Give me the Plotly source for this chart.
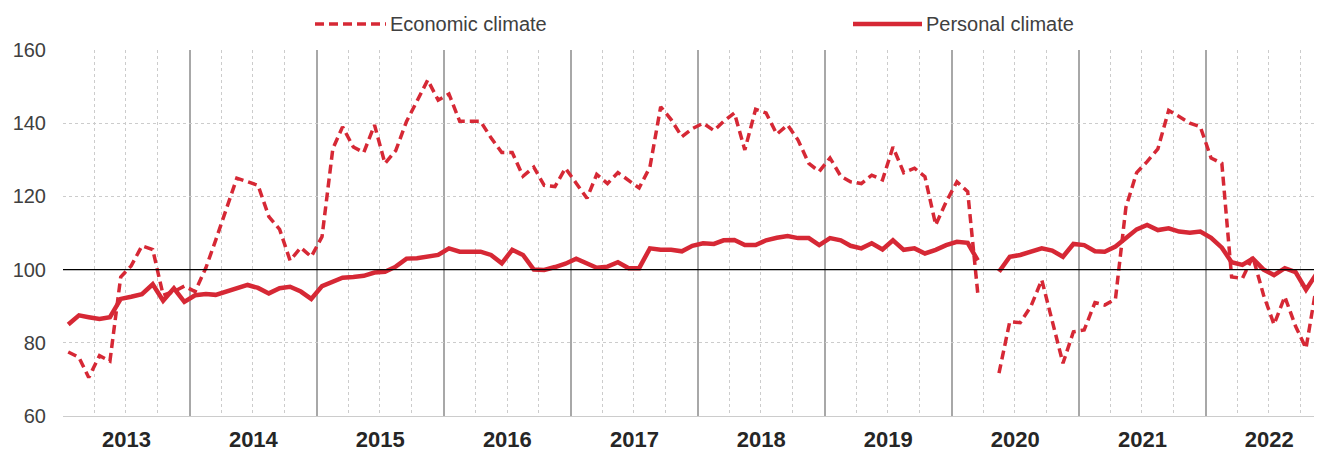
import pandas as pd
import plotly.graph_objects as go

# ---- data (monthly, Jan 2013 - Nov 2022; Apr 2020 missing) ----
econ_2013 = [77.5, 76, 70.5, 76.5, 75, 98, 101, 106.5, 105.5, 93, 94, 95.5]
econ_2014 = [94, 100.5, 108, 117, 125, 124, 123, 114.5, 111, 102.5, 106, 103.5]
econ_2015 = [109, 133, 139, 133.5, 132, 139.5, 129, 132.5, 140.5, 146, 151.8, 146.3]
econ_2016 = [148, 140.5, 140.5, 140.5, 136, 132, 132, 125.5, 128, 123, 122.7, 127.7]
econ_2017 = [123.6, 119.5, 126, 123.5, 126.5, 124.5, 122.3, 128, 144.5, 141, 136.3, 138.5]
econ_2018 = [140, 138, 140.5, 142.8, 132.7, 143.8, 142.8, 137, 139.5, 135.4, 129, 126.8]
econ_2019 = [130.5, 125.5, 124, 123.5, 125.8, 124.5, 133.5, 126.5, 127.7, 125.4, 112.2, 118.5]
econ_2020 = [124, 121.3, 93.5, None, 71.7, 85.8, 85.5, 90, 97.2, 86, 74.4, 83]
econ_2021 = [83.5, 91, 90.3, 92, 117, 126.5, 129.5, 133, 143.5, 141.8, 140, 139]
econ_2022 = [130.5, 129, 98, 97.6, 103.5, 93, 85, 92.6, 84.5, 78.5, 96]

pers_2013 = [85, 87.5, 87, 86.5, 87, 92, 92.6, 93.3, 96, 91.5, 94.9, 91.2]
pers_2014 = [93, 93.3, 93.1, 94, 95, 95.8, 95, 93.5, 94.9, 95.3, 94, 92]
pers_2015 = [95.5, 96.8, 97.8, 98, 98.3, 99.2, 99.4, 100.8, 103, 103.1, 103.5, 104]
pers_2016 = [105.8, 104.9, 104.9, 104.9, 104, 101.7, 105.4, 104, 100, 99.9, 100.7, 101.6]
pers_2017 = [103, 101.7, 100.5, 100.8, 102, 100.4, 100.4, 105.8, 105.4, 105.4, 105, 106.5]
pers_2018 = [107.2, 107, 108, 108.1, 106.7, 106.7, 108, 108.7, 109.2, 108.6, 108.6, 106.7]
pers_2019 = [108.6, 108, 106.5, 105.8, 107.2, 105.5, 108, 105.4, 105.8, 104.4, 105.4, 106.7]
pers_2020 = [107.6, 107.3, 102.5, None, 99.4, 103.5, 104, 105, 105.8, 105.2, 103.5, 107]
pers_2021 = [106.7, 105, 104.9, 106.3, 108.6, 111, 112.2, 110.8, 111.3, 110.4, 110.1, 110.4]
pers_2022 = [108.7, 106, 102, 101.3, 103, 100, 98.5, 100.4, 99.3, 94.5, 99]

economic = (econ_2013 + econ_2014 + econ_2015 + econ_2016 + econ_2017 +
            econ_2018 + econ_2019 + econ_2020 + econ_2021 + econ_2022)
personal = (pers_2013 + pers_2014 + pers_2015 + pers_2016 + pers_2017 +
            pers_2018 + pers_2019 + pers_2020 + pers_2021 + pers_2022)

months = pd.date_range("2013-01-01", periods=len(economic), freq="MS") + pd.Timedelta(days=15)

RED = "#d62835"
FONT = "Liberation Sans, Arial, sans-serif"

# page has an 8px body margin; figure coordinates are offset accordingly
FIG_W, FIG_H = 1322, 453
L, R, T, B = 55, 8, 42, 45
PLOT_W = FIG_W - L - R
PLOT_H = FIG_H - T - B

fig = go.Figure()
fig.add_trace(go.Scatter(x=months, y=economic, name="Economic climate", mode="lines",
                         line=dict(color=RED, width=3.5, dash="9px,5px"),
                         connectgaps=False, showlegend=False))
fig.add_trace(go.Scatter(x=months, y=personal, name="Personal climate", mode="lines",
                         line=dict(color=RED, width=4.5),
                         connectgaps=False, showlegend=False))

# reference line at 100
fig.add_shape(type="line", xref="paper", yref="y", x0=0, x1=1, y0=100, y1=100,
              line=dict(color="black", width=1.2), layer="above")

# manual legend (top), positions given in page pixels
def px_x(p):
    return (p - 8 - L) / PLOT_W

def px_y(p):
    return (T + PLOT_H - (p - 8)) / PLOT_H

ly = px_y(24)
fig.add_shape(type="line", xref="paper", yref="paper", x0=px_x(315), x1=px_x(386), y0=ly, y1=ly,
              line=dict(color=RED, width=3.5, dash="9px,5px"))
fig.add_annotation(xref="paper", yref="paper", x=px_x(388), y=ly, text="Economic climate",
                   showarrow=False, xanchor="left", yanchor="middle",
                   font=dict(family=FONT, size=20, color="#404040"))
fig.add_shape(type="line", xref="paper", yref="paper", x0=px_x(853), x1=px_x(922), y0=ly, y1=ly,
              line=dict(color=RED, width=4.5))
fig.add_annotation(xref="paper", yref="paper", x=px_x(924), y=ly, text="Personal climate",
                   showarrow=False, xanchor="left", yanchor="middle",
                   font=dict(family=FONT, size=20, color="#404040"))

fig.update_layout(
    width=FIG_W, height=FIG_H,
    margin=dict(l=L, r=R, t=T, b=B, autoexpand=False),
    paper_bgcolor="white", plot_bgcolor="white",
    font=dict(family=FONT, color="#404040"),
)
fig.update_xaxes(
    type="date",
    range=["2013-01-01", "2022-12-01"],
    tick0="2013-01-01", dtick="M12", tickformat="%Y",
    ticklabelmode="period",
    showgrid=True, gridcolor="#a8a8a8", gridwidth=2,
    minor=dict(dtick="M3", showgrid=True, gridcolor="#cccccc", griddash="dot", gridwidth=1),
    showline=True, linecolor="#cccccc", linewidth=1,
    ticks="", ticklabelstandoff=4,
    tickfont=dict(family=FONT, size=22, color="#262626", weight="bold"),
    zeroline=False,
)
fig.update_yaxes(
    range=[60, 160], dtick=20, tick0=60,
    showgrid=True, gridcolor="#cccccc", griddash="dot", gridwidth=1,
    showline=False, zeroline=False,
    ticks="", ticklabelstandoff=16,
    tickfont=dict(family=FONT, size=20, color="#404040"),
)

fig.write_html("out.html")
